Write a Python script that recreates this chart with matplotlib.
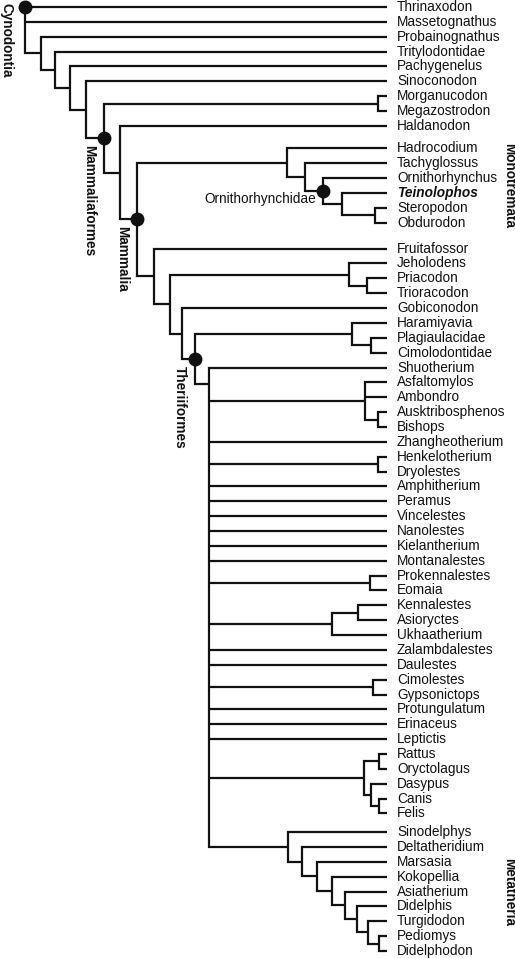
import matplotlib
matplotlib.use("Agg")
import matplotlib.pyplot as plt

plt.rcParams['font.family'] = ['Liberation Sans', 'DejaVu Sans']

# ---------------- data ----------------
taxa = [
    "Thrinaxodon", "Massetognathus", "Probainognathus", "Tritylodontidae",
    "Pachygenelus", "Sinoconodon", "Morganucodon", "Megazostrodon", "Haldanodon",
    "Hadrocodium", "Tachyglossus", "Ornithorhynchus", "Teinolophos", "Steropodon",
    "Obdurodon", "Fruitafossor", "Jeholodens", "Priacodon", "Trioracodon",
    "Gobiconodon", "Haramiyavia", "Plagiaulacidae", "Cimolodontidae", "Shuotherium",
    "Asfaltomylos", "Ambondro", "Ausktribosphenos", "Bishops", "Zhangheotherium",
    "Henkelotherium", "Dryolestes", "Amphitherium", "Peramus", "Vincelestes",
    "Nanolestes", "Kielantherium", "Montanalestes", "Prokennalestes", "Eomaia",
    "Kennalestes", "Asioryctes", "Ukhaatherium", "Zalambdalestes", "Daulestes",
    "Cimolestes", "Gypsonictops", "Protungulatum", "Erinaceus", "Leptictis",
    "Rattus", "Oryctolagus", "Dasypus", "Canis", "Felis", "Sinodelphys",
    "Deltatheridium", "Marsasia", "Kokopellia", "Asiatherium", "Didelphis",
    "Turgidodon", "Pediomys", "Didelphodon",
]
highlight_taxon = "Teinolophos"
tip_depth = 387

# internal nodes: name, depth, children
node_names = [
    "Cynodontia", "n2", "n3", "n4", "n5", "Mammaliaformes", "n_morg", "n7",
    "Mammalia", "n_had", "n_tach", "Ornithorhynchidae", "n_tein", "n_ster",
    "n9", "n10", "n_jeh", "n_pri", "n11", "Theriiformes", "n_har", "n_pla",
    "n13", "n_asf", "n_aus", "n_hen", "n_pro", "n_ken", "n_ken2", "n_cim",
    "n_rat", "n_rat2", "n_das", "n_can", "Metatheria", "m2", "m3", "m4", "m5",
    "m6", "m7", "m8",
]
node_depths = [
    25, 41, 55, 70, 86, 104, 378, 120,
    137, 287, 305, 323, 342, 375,
    154, 170, 349, 367, 182, 195, 352, 371,
    209, 365, 378, 378, 370, 332, 358, 373,
    364, 379, 371, 379, 288, 302, 317, 332, 345,
    357, 368, 379,
]
node_children = [
    ["Thrinaxodon", "Massetognathus", "n2"],
    ["Probainognathus", "n3"],
    ["Tritylodontidae", "n4"],
    ["Pachygenelus", "n5"],
    ["Sinoconodon", "Mammaliaformes"],
    ["n_morg", "n7"],
    ["Morganucodon", "Megazostrodon"],
    ["Haldanodon", "Mammalia"],
    ["n_had", "n9"],
    ["Hadrocodium", "n_tach"],
    ["Tachyglossus", "Ornithorhynchidae"],
    ["Ornithorhynchus", "n_tein"],
    ["Teinolophos", "n_ster"],
    ["Steropodon", "Obdurodon"],
    ["Fruitafossor", "n10"],
    ["n_jeh", "n11"],
    ["Jeholodens", "n_pri"],
    ["Priacodon", "Trioracodon"],
    ["Gobiconodon", "Theriiformes"],
    ["n_har", "n13"],
    ["Haramiyavia", "n_pla"],
    ["Plagiaulacidae", "Cimolodontidae"],
    ["Shuotherium", "n_asf", "Zhangheotherium", "n_hen", "Amphitherium", "Peramus",
     "Vincelestes", "Nanolestes", "Kielantherium", "Montanalestes", "n_pro", "n_ken",
     "Zalambdalestes", "Daulestes", "n_cim", "Protungulatum", "Erinaceus", "Leptictis",
     "n_rat", "Metatheria"],
    ["Asfaltomylos", "Ambondro", "n_aus"],
    ["Ausktribosphenos", "Bishops"],
    ["Henkelotherium", "Dryolestes"],
    ["Prokennalestes", "Eomaia"],
    ["n_ken2", "Ukhaatherium"],
    ["Kennalestes", "Asioryctes"],
    ["Cimolestes", "Gypsonictops"],
    ["n_rat2", "n_das"],
    ["Rattus", "Oryctolagus"],
    ["Dasypus", "n_can"],
    ["Canis", "Felis"],
    ["Sinodelphys", "m2"],
    ["Deltatheridium", "m3"],
    ["Marsasia", "m4"],
    ["Kokopellia", "m5"],
    ["Asiatherium", "m6"],
    ["Didelphis", "m7"],
    ["Turgidodon", "m8"],
    ["Pediomys", "Didelphodon"],
]
marked_nodes = ["Cynodontia", "Mammaliaformes", "Mammalia", "Theriiformes", "Ornithorhynchidae"]
stem_labels = ["Cynodontia", "Mammaliaformes", "Mammalia", "Theriiformes"]
side_labels = [("Monotremata", "Hadrocodium", "Obdurodon"),
               ("Metatheria", "Sinodelphys", "Didelphodon")]

# ---------------- layout ----------------
# extra vertical space between blocks of the tree (in row units)
gap_after = {"Haldanodon": 0.5, "Obdurodon": 0.75, "Felis": 0.25}
# polytomies whose stem attaches near the top
stem_near_top = ["n13"]

rows = []
acc = 0.0
for t in taxa:
    rows.append(acc)
    acc += 1 + gap_after.get(t, 0)
last = rows[-1]

W, H = 515, 958
fig = plt.figure(figsize=(W / 100, H / 100), dpi=100)
ax = fig.add_axes([0, 0, 1, 1])
px = 944 / last
ax.set_xlim(0, W)
ax.set_ylim(last + 7 / px, -7 / px)
ax.axis('off')

nodes = {n: (d, c) for n, d, c in zip(node_names, node_depths, node_children)}
pos = {t: (tip_depth, r) for t, r in zip(taxa, rows)}


def place(name):
    if name in pos:
        return pos[name]
    d, ch = nodes[name]
    ys = [place(c)[1] for c in ch]
    if name in stem_near_top:
        y = (ys[0] + ys[1]) / 2
    else:
        y = (ys[0] + ys[-1]) / 2
    pos[name] = (d, y)
    return pos[name]


place("Cynodontia")

LW = 1.6
col = "#111111"
FS = 9.8
for name in node_names:
    d, ch = nodes[name]
    cp = [pos[c] for c in ch]
    ax.plot([cp[0][0], d, d, cp[-1][0]], [cp[0][1], cp[0][1], cp[-1][1], cp[-1][1]],
            color=col, lw=LW, solid_joinstyle='miter', solid_capstyle='butt')
    for cx, cy in cp[1:-1]:
        ax.plot([d, cx], [cy, cy], color=col, lw=LW, solid_capstyle='butt')

# node markers
for name in marked_nodes:
    x, y = pos[name]
    if name == "Cynodontia":
        y = pos[nodes[name][1][0]][1]
    ax.plot(x, y, 'o', color=col, ms=9, zorder=5)

# taxon labels
for t, r in zip(taxa, rows):
    if t == highlight_taxon:
        ax.text(tip_depth + 10, r, t, ha='left', va='center', fontsize=FS,
                fontweight='bold', fontstyle='italic', color=col)
    else:
        ax.text(tip_depth + 10, r, t, ha='left', va='center', fontsize=FS, color=col)

# clade labels on stems
for name in stem_labels:
    x, y = pos[name]
    if name == "Cynodontia":
        ax.text(x - 19, -0.3, name, rotation=-90, ha='center', va='top',
                fontsize=FS, fontweight='bold', color=col)
    else:
        ax.text(x - 15, y + 0.45, name, rotation=-90, ha='center', va='top',
                fontsize=FS, fontweight='bold', color=col)

# Ornithorhynchidae label
x, y = pos["Ornithorhynchidae"]
ax.text(x - 7, y + 0.55, "Ornithorhynchidae", ha='right', va='center',
        fontsize=FS, color=col)

# side labels
for lab, a, b in side_labels:
    yc = (pos[a][1] + pos[b][1]) / 2
    ax.text(509, yc, lab, rotation=-90, ha='center', va='center',
            fontsize=FS, fontweight='bold', color=col)

fig.savefig("out.png", dpi=100, facecolor='white')
